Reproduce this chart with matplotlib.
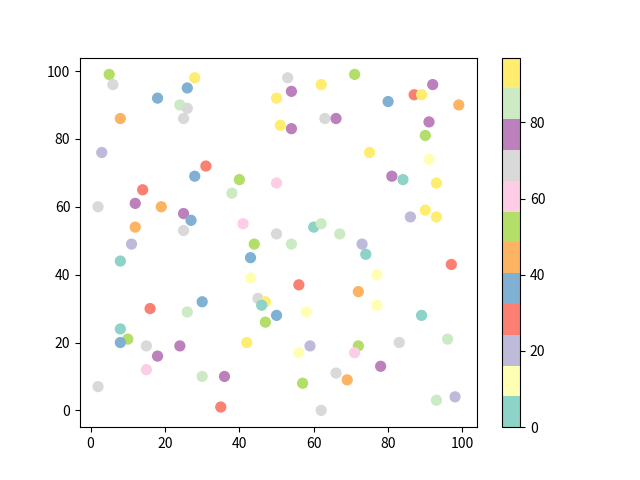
import matplotlib
matplotlib.use("Agg")
import matplotlib.pyplot as plt

plt.rcParams["font.family"] = ["Noto Sans CJK SC", "DejaVu Sans"]

# point positions
x = [5, 6, 28, 26, 18, 24, 26, 25, 8, 3, 31, 28, 14, 2, 12, 19, 25, 27, 12, 25,
     11, 53, 62, 54, 50, 63, 66, 51, 54, 40, 50, 38, 41, 50, 60, 62, 67, 44, 54, 71,
     92, 87, 89, 80, 99, 91, 90, 75, 91, 81, 84, 93, 90, 86, 93, 73, 8, 30, 16, 26,
     8, 10, 8, 15, 24, 18, 15, 30, 2, 43, 43, 56, 45, 47, 46, 50, 58, 47, 42, 59,
     56, 36, 66, 57, 69, 35, 62, 74, 97, 77, 72, 77, 89, 83, 96, 72, 71, 78, 93, 98]
y = [99, 96, 98, 95, 92, 90, 89, 86, 86, 76, 72, 69, 65, 60, 61, 60, 58, 56, 54, 53,
     49, 98, 96, 94, 92, 86, 86, 84, 83, 68, 67, 64, 55, 52, 54, 55, 52, 49, 49, 99,
     96, 93, 93, 91, 90, 85, 81, 76, 74, 69, 68, 67, 59, 57, 57, 49, 44, 32, 30, 29,
     24, 21, 20, 19, 19, 16, 12, 10, 7, 45, 39, 37, 33, 32, 31, 28, 29, 26, 20, 19,
     17, 10, 11, 8, 9, 1, 0, 46, 43, 40, 35, 31, 28, 20, 21, 19, 17, 13, 3, 4]
# colour values (estimated from the Set3 colour bins)
c = [52, 69, 93, 36, 36, 85, 69, 69, 44, 20, 28, 36, 28, 69, 77, 44, 77, 36, 44, 69,
     20, 69, 93, 77, 93, 69, 77, 93, 77, 52, 61, 85, 61, 69, 4, 85, 85, 52, 85, 52,
     77, 28, 93, 36, 44, 77, 52, 93, 12, 77, 4, 93, 93, 20, 93, 20, 4, 36, 28, 85,
     4, 52, 36, 69, 77, 77, 61, 85, 69, 36, 12, 28, 69, 93, 4, 36, 12, 52, 93, 20,
     12, 77, 69, 52, 44, 28, 69, 4, 28, 12, 44, 12, 4, 69, 85, 52, 61, 77, 85, 20]

fig, ax = plt.subplots(figsize=(6.4, 4.8), dpi=100)
sc = ax.scatter(x, y, c=c, cmap="Set3", s=50, vmin=0, vmax=97)
fig.colorbar(sc, ax=ax)

plt.savefig("out.png")
